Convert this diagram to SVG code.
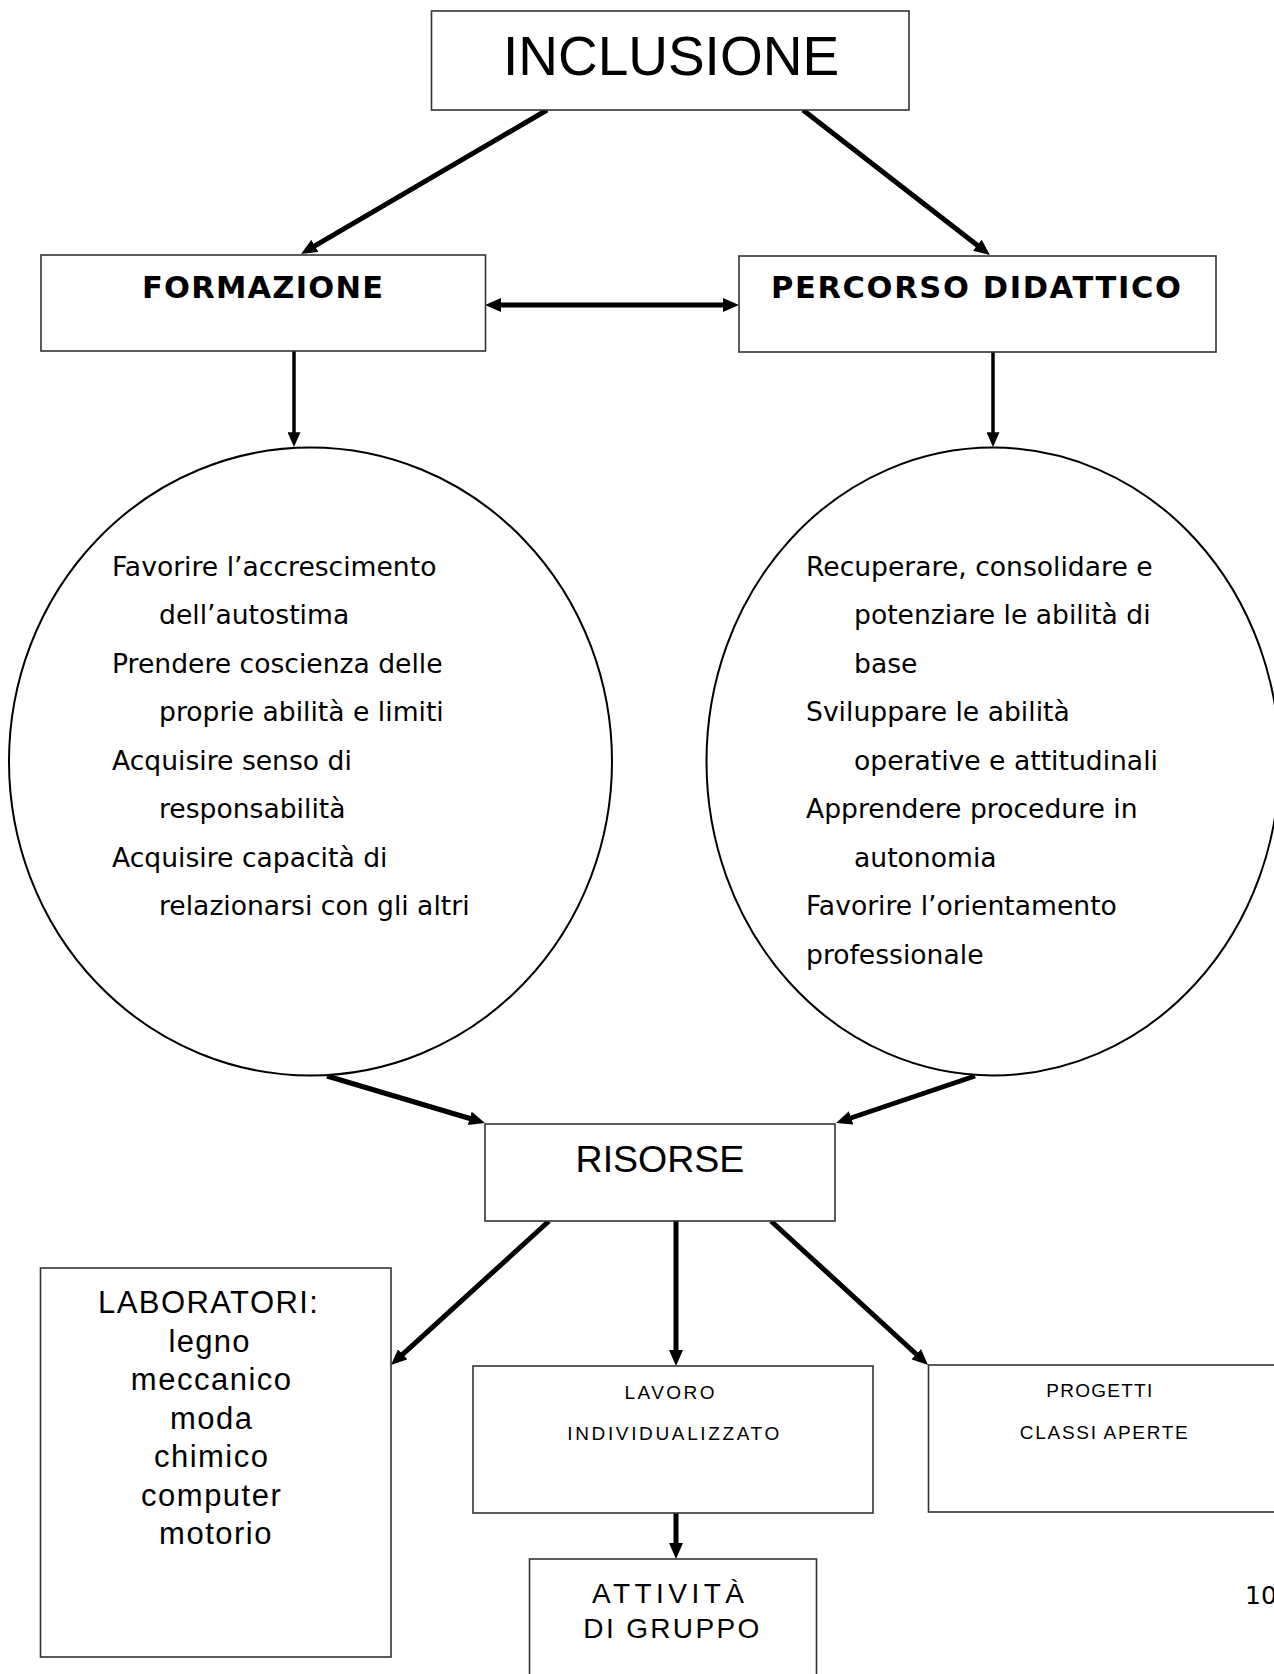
<svg xmlns="http://www.w3.org/2000/svg" width="1274" height="1674" viewBox="0 0 1274 1674">
  <style>
    .box { fill: #ffffff; stroke: #333333; stroke-width: 1.6; }
    .oval { fill: #ffffff; stroke: #000000; stroke-width: 2; }
    .link { stroke: #000000; stroke-width: 5; fill: none; }
    .thin { stroke-width: 3.5; }
    .sans { font-family: "Liberation Sans", Arial, sans-serif; fill: #000000; }
    .vd { font-family: "DejaVu Sans", Verdana, sans-serif; fill: #000000; }
    .bold { font-weight: bold; }
    .mid { text-anchor: middle; }
    .goal { font-size: 26.6px; }
  </style>
  <defs>
    <marker id="head" viewBox="0 0 16 14" refX="2" refY="7" markerWidth="16" markerHeight="14" markerUnits="userSpaceOnUse" orient="auto-start-reverse">
      <path d="M0,0 L16,7 L0,14 z" fill="#000000"/>
    </marker>
    <marker id="headSmall" viewBox="0 0 16 14" refX="2" refY="7" markerWidth="15" markerHeight="13" markerUnits="userSpaceOnUse" orient="auto">
      <path d="M0,0 L16,7 L0,14 z" fill="#000000"/>
    </marker>
  </defs>

  <!-- connectors -->
  <g id="connectors">
    <line class="link" x1="547" y1="110" x2="313.1" y2="246.9" marker-end="url(#head)"/>
    <line class="link" x1="803" y1="110" x2="978.9" y2="246.4" marker-end="url(#head)"/>
    <line class="link" x1="499" y1="305" x2="725" y2="305" stroke-width="6" marker-start="url(#head)" marker-end="url(#head)"/>
    <line class="link thin" x1="294" y1="351" x2="294" y2="434" marker-end="url(#headSmall)"/>
    <line class="link thin" x1="993" y1="352" x2="993" y2="434" marker-end="url(#headSmall)"/>
    <line class="link" x1="327" y1="1076" x2="471.6" y2="1119" marker-end="url(#head)"/>
    <line class="link" x1="975" y1="1076" x2="849.3" y2="1118.5" marker-end="url(#head)"/>
    <line class="link" x1="549" y1="1221" x2="401.3" y2="1355.6" marker-end="url(#head)"/>
    <line class="link" x1="676" y1="1221" x2="676" y2="1352" marker-end="url(#head)"/>
    <line class="link" x1="771" y1="1221" x2="917.7" y2="1355.5" marker-end="url(#head)"/>
    <line class="link" x1="676" y1="1513" x2="676" y2="1545" marker-end="url(#head)"/>
  </g>

  <!-- top node -->
  <g id="inclusione">
    <rect class="box" x="431.5" y="11" width="477.5" height="99"/>
    <text class="sans mid" x="671" y="75" font-size="55">INCLUSIONE</text>
  </g>

  <g id="formazione">
    <rect class="box" x="41" y="255" width="444.5" height="96"/>
    <text class="vd bold mid" x="262.5" y="298" font-size="30.5" textLength="241" lengthAdjust="spacing">FORMAZIONE</text>
  </g>

  <g id="percorso">
    <rect class="box" x="739" y="256" width="477" height="96"/>
    <text class="vd bold mid" x="976" y="298" font-size="30.5" textLength="410" lengthAdjust="spacing">PERCORSO DIDATTICO</text>
  </g>

  <!-- goals of the training path -->
  <g id="obiettivi-formazione">
    <ellipse class="oval" cx="310.5" cy="761.5" rx="301.5" ry="314"/>
    <text class="vd goal">
      <tspan x="112" y="575.5">Favorire l’accrescimento</tspan>
      <tspan x="159" y="624">dell’autostima</tspan>
      <tspan x="112" y="672.5">Prendere coscienza delle</tspan>
      <tspan x="159" y="721">proprie abilità e limiti</tspan>
      <tspan x="112" y="769.5">Acquisire senso di</tspan>
      <tspan x="159" y="818">responsabilità</tspan>
      <tspan x="112" y="866.5">Acquisire capacità di</tspan>
      <tspan x="159" y="915">relazionarsi con gli altri</tspan>
    </text>
  </g>

  <!-- goals of the teaching path -->
  <g id="obiettivi-didattici">
    <ellipse class="oval" cx="993" cy="761.5" rx="286.5" ry="314"/>
    <text class="vd goal">
      <tspan x="806" y="575.5">Recuperare, consolidare e</tspan>
      <tspan x="854" y="624">potenziare le abilità di</tspan>
      <tspan x="854" y="672.5">base</tspan>
      <tspan x="806" y="721">Sviluppare le abilità</tspan>
      <tspan x="854" y="769.5">operative e attitudinali</tspan>
      <tspan x="806" y="818">Apprendere procedure in</tspan>
      <tspan x="854" y="866.5">autonomia</tspan>
      <tspan x="806" y="915">Favorire l’orientamento</tspan>
      <tspan x="806" y="963.5">professionale</tspan>
    </text>
  </g>

  <g id="risorse">
    <rect class="box" x="485" y="1124" width="350" height="97"/>
    <text class="sans mid" x="660" y="1172" font-size="37.5">RISORSE</text>
  </g>

  <g id="laboratori">
    <rect class="box" x="40.5" y="1268" width="350.5" height="389"/>
    <text class="sans mid" font-size="31">
      <tspan x="213" y="1313" textLength="220" lengthAdjust="spacing">LABORATORI:</tspan>
      <tspan x="214" y="1351.5" letter-spacing="1.3">legno</tspan>
      <tspan x="216" y="1390" letter-spacing="1.5">meccanico</tspan>
      <tspan x="216" y="1428.5" letter-spacing="1.5">moda</tspan>
      <tspan x="216" y="1467" letter-spacing="1.5">chimico</tspan>
      <tspan x="216" y="1505.5" letter-spacing="1.5">computer</tspan>
      <tspan x="216" y="1544" letter-spacing="1.5">motorio</tspan>
    </text>
  </g>

  <g id="lavoro">
    <rect class="box" x="473" y="1366" width="400" height="147"/>
    <text class="sans mid" font-size="19">
      <tspan x="673.3" y="1399" textLength="90" lengthAdjust="spacing">LAVORO</tspan>
      <tspan x="673.3" y="1440" textLength="212" lengthAdjust="spacing">INDIVIDUALIZZATO</tspan>
    </text>
  </g>

  <g id="progetti">
    <rect class="box" x="928.5" y="1365" width="360" height="147"/>
    <text class="sans mid" font-size="19">
      <tspan x="1102.5" y="1397.3" textLength="106" lengthAdjust="spacing">PROGETTI</tspan>
      <tspan x="1103.8" y="1439" textLength="168" lengthAdjust="spacing">CLASSI APERTE</tspan>
    </text>
  </g>

  <g id="attivita">
    <rect class="box" x="529.5" y="1559" width="287" height="130"/>
    <text class="sans mid" font-size="28">
      <tspan x="674" y="1603" textLength="152" lengthAdjust="spacing">ATTIVITÀ</tspan>
      <tspan x="671.3" y="1638" textLength="176" lengthAdjust="spacing">DI GRUPPO</tspan>
    </text>
  </g>

  <!-- page number -->
  <text class="vd" x="1245" y="1604" font-size="25">10</text>
</svg>
